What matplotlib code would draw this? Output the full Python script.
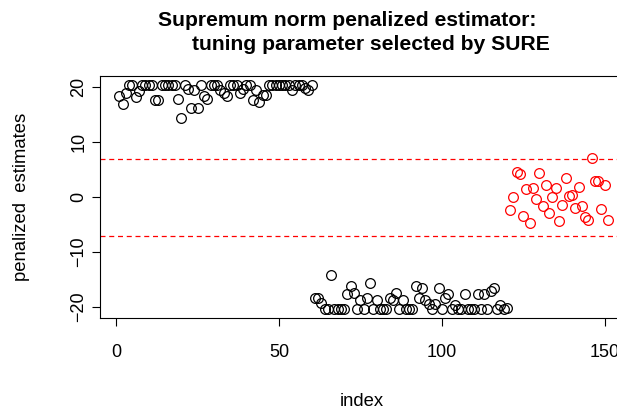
import matplotlib.pyplot as plt
import numpy as np

# estimates
top_values = [
    18.3, 17.0, 19.0, 20.4, 20.4, 18.1, 19.2, 20.4, 20.4, 20.4,
    20.4, 17.7, 17.7, 20.4, 20.4, 20.4, 20.4, 20.4, 17.9, 14.4,
    20.4, 19.7, 16.1, 19.4, 16.1, 20.4, 18.4, 17.9, 20.4, 20.4,
    20.4, 19.4, 19.0, 18.4, 20.4, 20.4, 20.4, 19.0, 19.7, 20.4,
    20.4, 17.7, 19.4, 17.3, 18.6, 18.6, 20.4, 20.4, 20.4, 20.4,
    20.4, 20.4, 20.4, 19.4, 20.4, 20.4, 20.4, 19.9, 19.4, 20.4,
]

bottom_values = [
    -18.3, -18.3, -19.2, -20.4, -20.4, -14.1, -20.4, -20.4, -20.4, -20.4,
    -17.7, -16.1, -17.5, -20.4, -18.8, -20.4, -18.3, -15.7, -20.4, -18.8,
    -20.4, -20.4, -20.4, -18.3, -18.8, -17.5, -20.4, -18.8, -20.4, -20.4,
    -20.4, -16.1, -18.3, -16.6, -18.8, -19.5, -20.4, -19.5, -16.6, -20.4,
    -18.3, -17.7, -20.4, -19.7, -20.4, -20.4, -17.7, -20.4, -20.4, -20.4,
    -17.7, -20.4, -17.7, -20.4, -17.0, -16.6, -20.4, -19.7, -20.4, -20.1,
]

red_values = [
    -2.4, 0.0, 4.5, 4.2, -3.4, 1.5, -4.7, 1.6, -0.3, 4.4,
    -1.6, 2.1, -2.9, 0.0, 1.7, -4.3, -1.5, 3.5, 0.2, 0.3,
    -2.0, 1.8, -1.7, -3.7, -4.2, 7.1, 2.9, 3.0, -2.1, 2.2,
    -4.1,
]

threshold = 7.0

black_values = top_values + bottom_values
black_index = np.arange(1, len(black_values) + 1)
red_index = np.arange(len(black_values) + 1, len(black_values) + len(red_values) + 1)

plt.rcParams["font.family"] = ["Liberation Sans", "DejaVu Sans"]

fig = plt.figure(figsize=(6.17, 4.12), dpi=100)
ax = fig.add_axes([100 / 617, 94 / 412, 524 / 617, 242 / 412])

ax.plot(black_index, black_values, "o", mfc="none", mec="black", ms=7, mew=0.9)
ax.plot(red_index, red_values, "o", mfc="none", mec="red", ms=7, mew=0.9)

ax.axhline(threshold, color="red", ls=(0, (4, 3)), lw=0.9)
ax.axhline(-threshold, color="red", ls=(0, (4, 3)), lw=0.9)

ax.set_xlim(-4.96, 155.96)
ax.set_ylim(-22.0, 22.0)

ax.set_xticks([0, 50, 100, 150])
ax.set_yticks([-20, -10, 0, 10, 20])
ax.set_yticklabels(["\u221220", "\u221210", "0", "10", "20"], rotation=90, va="center")
ax.tick_params(labelsize=13, length=6, width=0.8, direction="out")
ax.tick_params(axis="x", pad=13)
ax.tick_params(axis="y", pad=3)

for s in ax.spines.values():
    s.set_linewidth(0.8)

ax.set_xlabel("index", fontsize=13.3, labelpad=23)
ax.set_ylabel("penalized  estimates", fontsize=13.3, labelpad=29)

fig.text(347 / 617, 1 - 21 / 412, "Supremum norm penalized estimator:",
         ha="center", va="center", fontsize=15.2, fontweight="bold")
fig.text(371 / 617, 1 - 45 / 412, "tuning parameter selected by SURE",
         ha="center", va="center", fontsize=15.2, fontweight="bold")

fig.savefig("out.png", dpi=100)
